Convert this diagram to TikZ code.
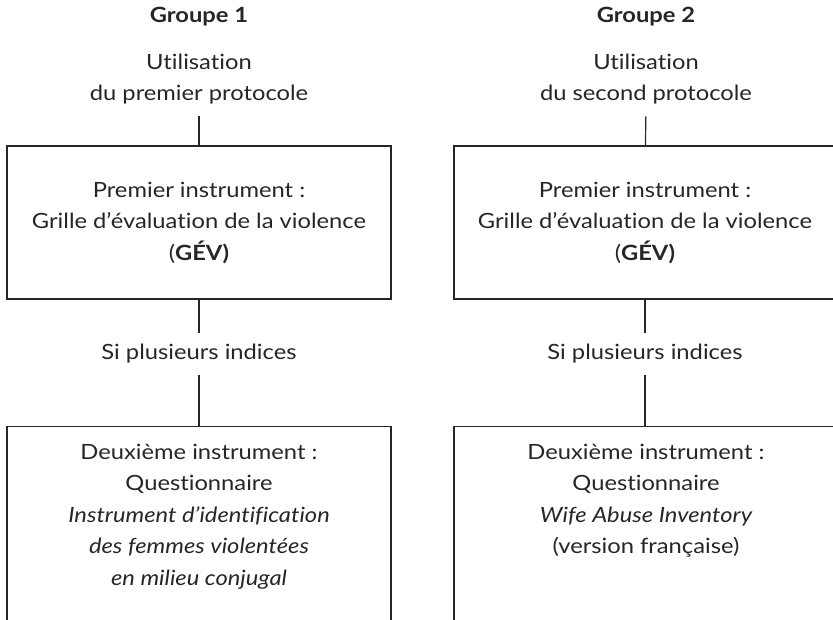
\documentclass[tikz,border=0pt]{standalone}
\usepackage{fontspec}
\setmainfont{Lato}[FakeStretch=1.13, Ligatures=NoCommon]
\usetikzlibrary{positioning}
\tikzset{
  boite/.style={draw=black!85, line width=1.2pt, inner sep=0pt, align=center,
    font=\fontsize{21}{31.5}\selectfont, text=black!85},
  texte/.style={align=center, font=\fontsize{21}{31.5}\selectfont, text=black!85, inner sep=0pt},
  titre/.style={texte, font=\fontsize{21}{31.5}\selectfont\bfseries},
  lien/.style={draw=black!85, line width=1.2pt},
}
\begin{document}
\begin{tikzpicture}[x=1pt,y=-1pt]
  \useasboundingbox (0,0) rectangle (833,619);
  \clip (0,0) rectangle (833,619);
  % Groupe 1
  \node[titre] (g1) at (199,17) {Groupe 1};
  \node[texte] (u1) at (199,79) {Utilisation\\du premier protocole};
  \node[boite, minimum width=384pt, minimum height=153pt] (pi1) at (199,222.5)
    {Premier instrument :\\Grille d'évaluation de la violence\\(\textbf{GÉV)}};
  \node[texte, inner ysep=11pt] (si1) at (199,354) {Si plusieurs indices};
  \node[boite, anchor=north, minimum width=384pt, minimum height=220pt] (di1) at (199,426) {};
  \node[texte] (tdi1) at (199,516.5) {Deuxième instrument :\\Questionnaire\\
    \itshape Instrument d'identification\\\itshape des femmes violentées\\\itshape en milieu conjugal};
  \draw[lien, shorten <=12pt] (u1) -- (pi1);
  \draw[lien] (pi1) -- (si1);
  \draw[lien] (si1) -- (di1);
  % Groupe 2
  \node[titre] (g2) at (646,17) {Groupe 2};
  \node[texte] (u2) at (646,79) {Utilisation\\du second protocole};
  \node[boite, minimum width=382pt, minimum height=153pt] (pi2) at (645,222.5)
    {Premier instrument :\\Grille d'évaluation de la violence\\(\textbf{GÉV)}};
  \node[texte, inner ysep=11pt] (si2) at (645,354) {Si plusieurs indices};
  \node[boite, anchor=north, minimum width=382pt, minimum height=220pt] (di2) at (645,426) {};
  \node[texte] (tdi2) at (646,500.5) {Deuxième instrument :\\Questionnaire\\
    \itshape Wife Abuse Inventory\\(version française)};
  \draw[lien, shorten <=12pt] (u2) -- (pi2);
  \draw[lien] (pi2) -- (si2);
  \draw[lien] (si2) -- (di2);
\end{tikzpicture}
\end{document}
